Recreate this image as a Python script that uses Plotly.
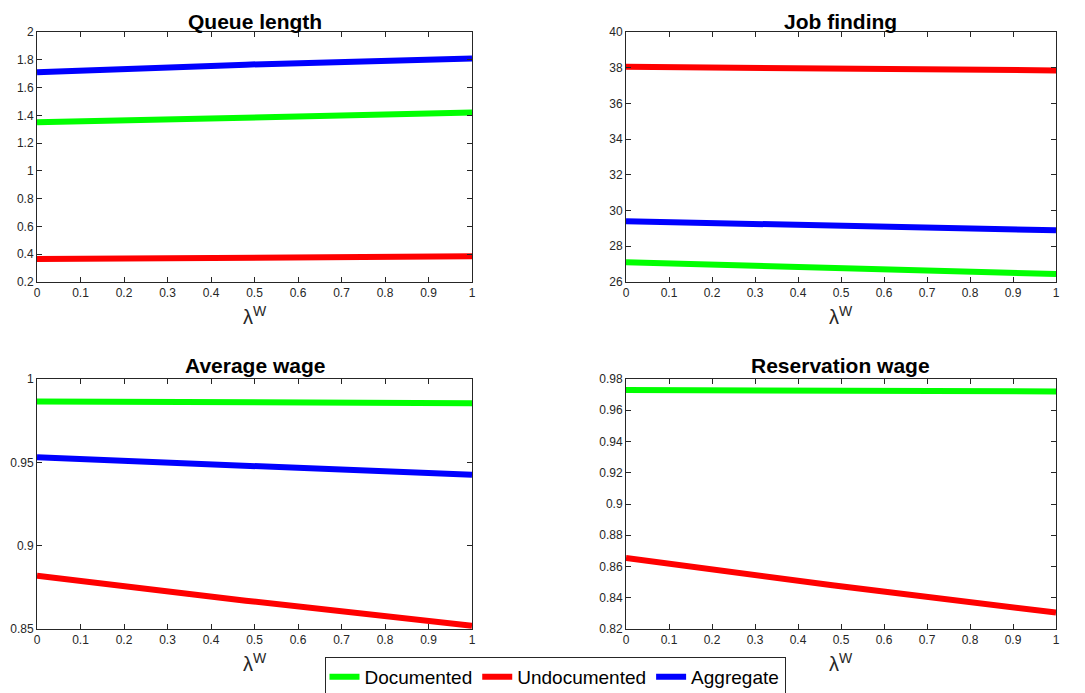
import plotly.graph_objects as go

lam = [0.0, 0.48, 1.0]

queue_doc = [1.35, 1.385, 1.42]
queue_undoc = [0.365, 0.375, 0.385]
queue_agg = [1.71, 1.765, 1.81]

job_doc = [27.1, 26.8, 26.45]
job_undoc = [38.05, 37.95, 37.85]
job_agg = [29.4, 29.15, 28.9]

avgw_doc = [0.9865, 0.986, 0.9855]
avgw_undoc = [0.882, 0.867, 0.852]
avgw_agg = [0.953, 0.948, 0.9425]

resw_doc = [0.973, 0.9725, 0.972]
resw_undoc = [0.8655, 0.848, 0.8305]

titles = ["Queue length", "Job finding", "Average wage", "Reservation wage"]
series_names = ["Documented", "Undocumented", "Aggregate"]
colors = {"Documented": "#00ff00", "Undocumented": "#ff0000", "Aggregate": "#0000ff"}

xticks = [0, 0.1, 0.2, 0.3, 0.4, 0.5, 0.6, 0.7, 0.8, 0.9, 1]
xticklabels = ["0", "0.1", "0.2", "0.3", "0.4", "0.5", "0.6", "0.7", "0.8", "0.9", "1"]

panels = [
    {"data": {"Documented": queue_doc, "Undocumented": queue_undoc, "Aggregate": queue_agg},
     "range": [0.2, 2],
     "ticks": [0.2, 0.4, 0.6, 0.8, 1, 1.2, 1.4, 1.6, 1.8, 2],
     "labels": ["0.2", "0.4", "0.6", "0.8", "1", "1.2", "1.4", "1.6", "1.8", "2"]},
    {"data": {"Documented": job_doc, "Undocumented": job_undoc, "Aggregate": job_agg},
     "range": [26, 40],
     "ticks": [26, 28, 30, 32, 34, 36, 38, 40],
     "labels": ["26", "28", "30", "32", "34", "36", "38", "40"]},
    {"data": {"Documented": avgw_doc, "Undocumented": avgw_undoc, "Aggregate": avgw_agg},
     "range": [0.85, 1.0],
     "ticks": [0.85, 0.9, 0.95, 1.0],
     "labels": ["0.85", "0.9", "0.95", "1"]},
    {"data": {"Documented": resw_doc, "Undocumented": resw_undoc},
     "range": [0.82, 0.98],
     "ticks": [0.82, 0.84, 0.86, 0.88, 0.9, 0.92, 0.94, 0.96, 0.98],
     "labels": ["0.82", "0.84", "0.86", "0.88", "0.9", "0.92", "0.94", "0.96", "0.98"]},
]

# page body adds an 8px margin; size the figure to fit the window
OFF = 8
W, H = 1085 - OFF, 693 - OFF


def px(X):
    return (X - OFF) / W


def py(Y):
    return 1 - (Y - OFF) / H


xdom = [[px(37), px(472)], [px(626), px(1056)]]
ydom = [[py(282), py(32)], [py(629), py(379)]]
title_shift = [-3, 0]

fig = go.Figure()
axc = "#262626"
font = "Liberation Sans, Arial, sans-serif"

annotations = []
for i, p in enumerate(panels):
    r, c = divmod(i, 2)
    xa = "x" if i == 0 else f"x{i+1}"
    ya = "y" if i == 0 else f"y{i+1}"
    for name in series_names:
        if name not in p["data"]:
            continue
        fig.add_trace(go.Scatter(
            x=lam, y=p["data"][name], mode="lines", name=name,
            line=dict(color=colors[name], width=6),
            xaxis=xa, yaxis=ya, showlegend=(i == 0), legendgroup=name,
            cliponaxis=False,
        ))
    common = dict(showline=True, linecolor=axc, linewidth=1, mirror="ticks",
                  ticks="inside", ticklen=5, tickcolor=axc, tickwidth=1,
                  showgrid=False, zeroline=False, automargin=False,
                  tickfont=dict(family=font, size=12, color=axc))
    fig.layout[f"xaxis{'' if i == 0 else i+1}"] = dict(
        domain=xdom[c], range=[0, 1], tickvals=xticks, ticktext=xticklabels,
        anchor=ya, **common)
    fig.layout[f"yaxis{'' if i == 0 else i+1}"] = dict(
        domain=ydom[r], range=p["range"], tickvals=p["ticks"], ticktext=p["labels"],
        anchor=xa, **common)
    xc = (xdom[c][0] + xdom[c][1]) / 2
    annotations.append(dict(
        text=f"<b>{titles[i]}</b>", x=xc, y=ydom[r][1] + title_shift[r] / H,
        xref="paper", yref="paper",
        xanchor="center", yanchor="bottom", showarrow=False,
        font=dict(family=font, size=21, color="black")))
    annotations.append(dict(
        text="λ<sup>W</sup>", x=xc, y=ydom[r][0] - 19 / H, xref="paper", yref="paper",
        xanchor="center", yanchor="top", showarrow=False,
        font=dict(family=font, size=20, color=axc)))

fig.update_layout(
    width=W, height=H, margin=dict(l=0, r=0, t=0, b=0, autoexpand=False),
    paper_bgcolor="white", plot_bgcolor="white",
    annotations=annotations,
    legend=dict(orientation="h", x=px(555), y=py(677), xanchor="center", yanchor="middle",
                bordercolor=axc, borderwidth=1, bgcolor="white",
                font=dict(family=font, size=19, color="black"),
                itemwidth=30, tracegroupgap=0),
)

fig.write_html("out.html")
